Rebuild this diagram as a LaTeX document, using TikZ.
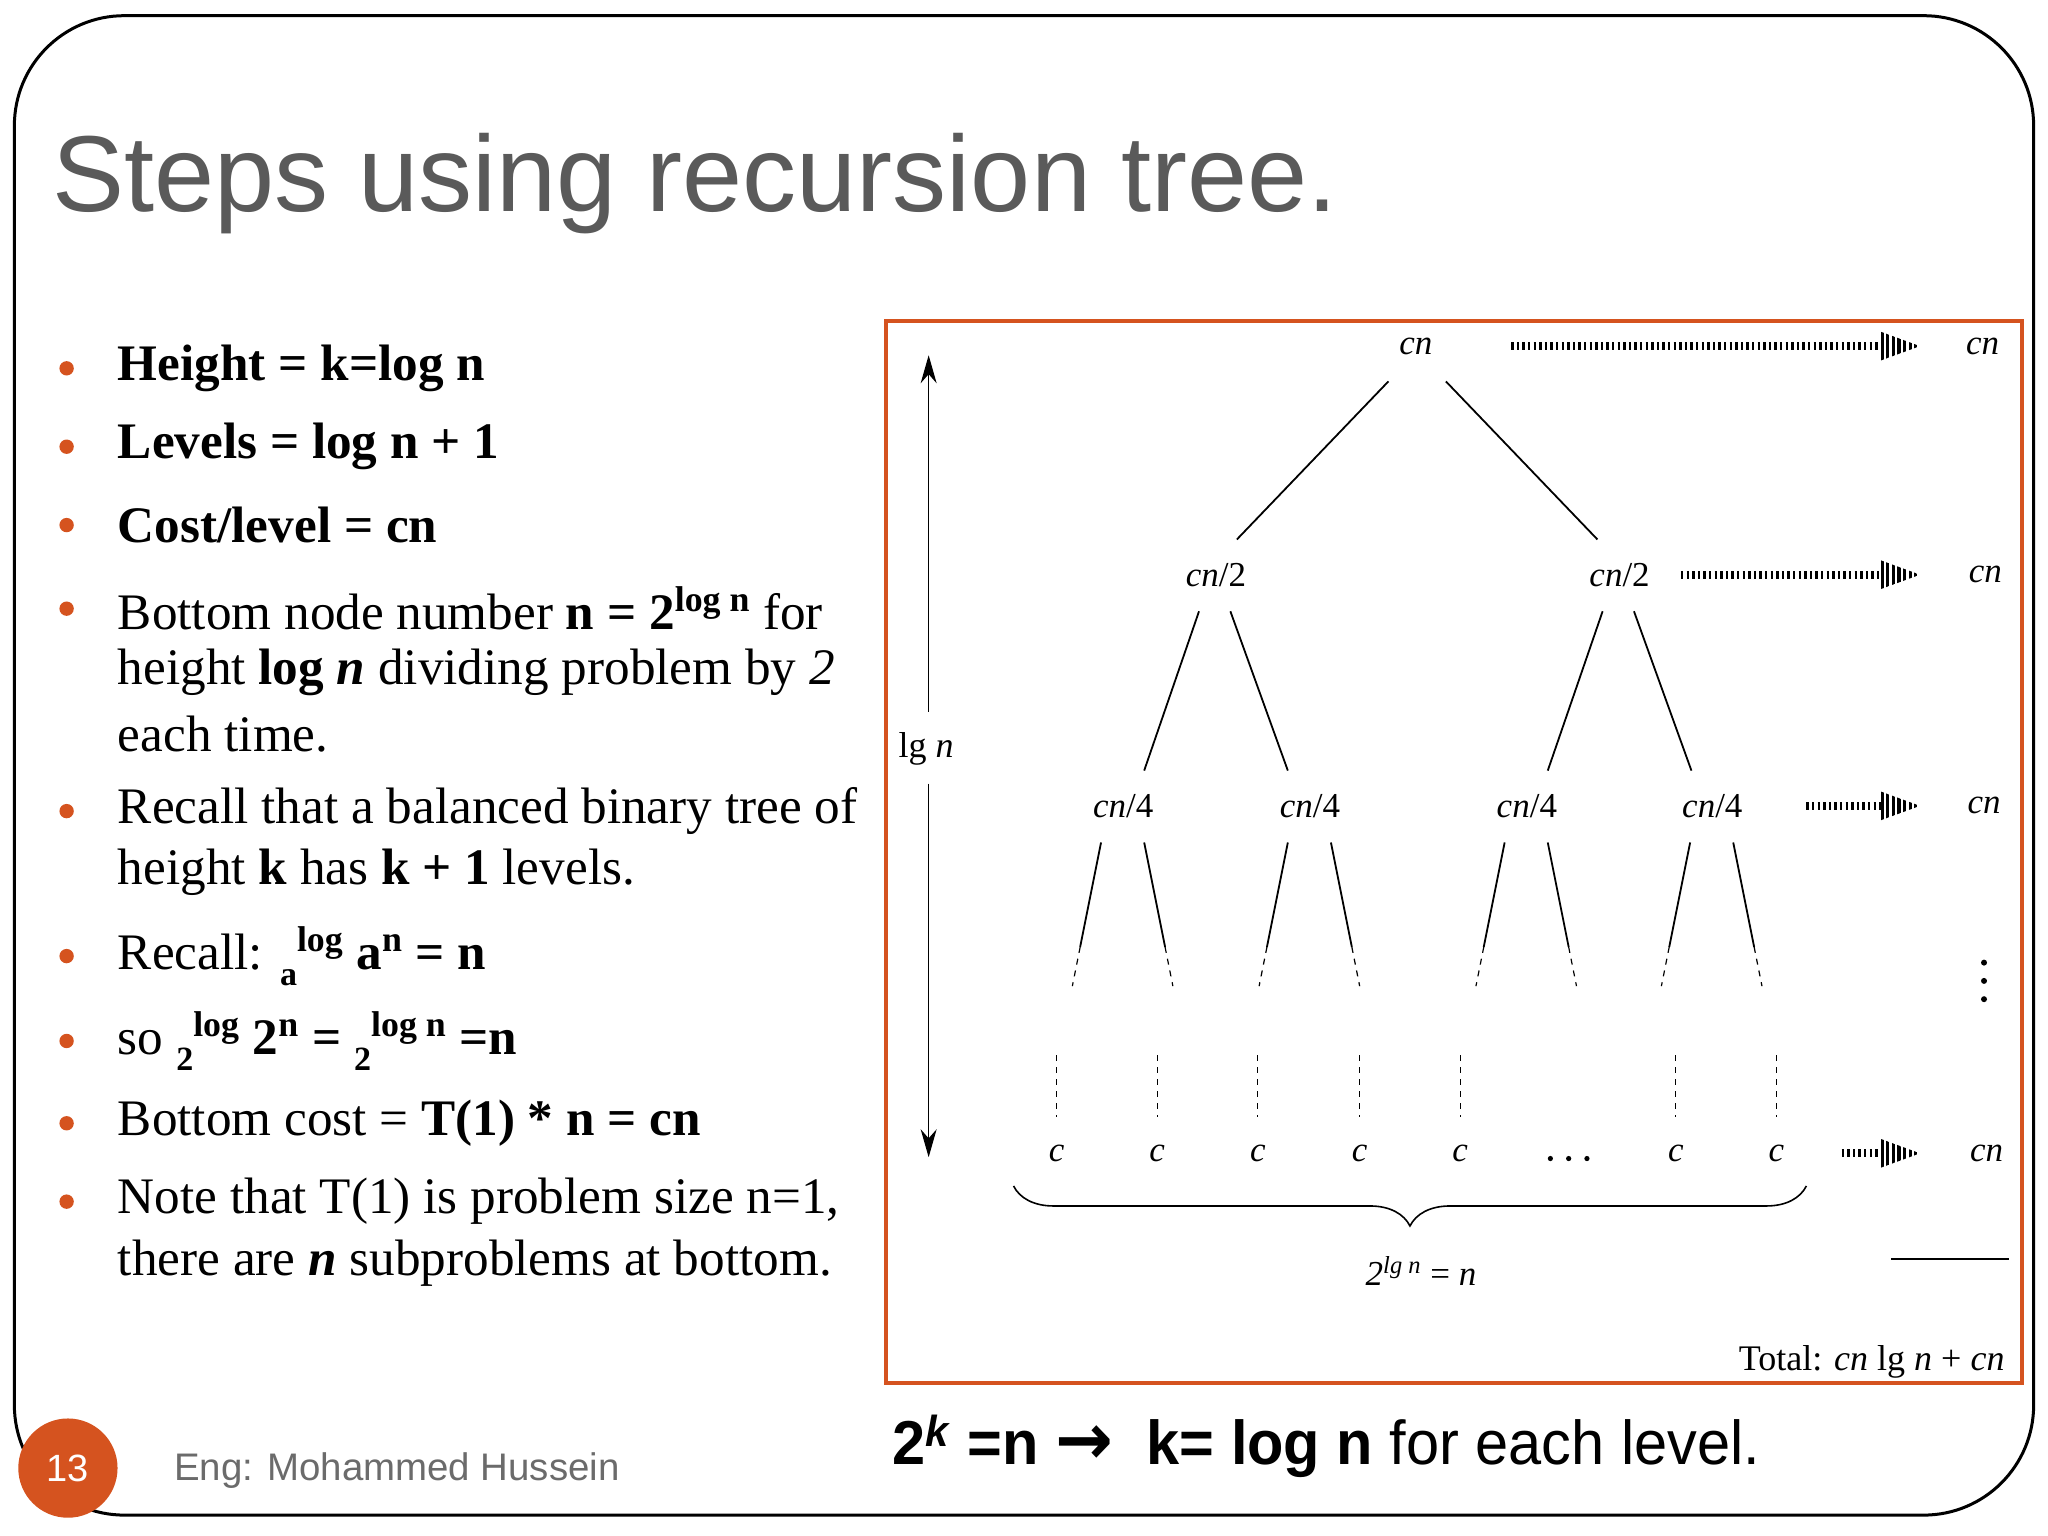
\documentclass[tikz,border=0pt]{standalone}
\usepackage{fontspec}
\setmainfont{Liberation Serif}
\setsansfont{Liberation Sans}
\newfontfamily\dv{DejaVu Sans}
\usetikzlibrary{arrows.meta,decorations.pathreplacing}
\definecolor{org}{HTML}{D5531F}
\definecolor{ttl}{HTML}{5A5A5A}
\newcommand{\lowsub}[1]{\raisebox{-0.3em}{\fontsize{17}{17}\selectfont #1}}
\begin{document}
\begin{tikzpicture}[x=0.653pt,y=-0.653pt,
  bul/.style={anchor=west,inner sep=0,font=\fontsize{25.6}{28}\selectfont},
  tt/.style={inner sep=3pt,font=\fontsize{17.5}{20}\selectfont\itshape},
  edge/.style={line width=0.9pt},
  dsh/.style={line width=0.6pt,dash pattern=on 3pt off 3pt},
  dotln/.style={line width=4pt,dash pattern=on 1.2pt off 1.6pt}]
\useasboundingbox (0,0) rectangle (1568,1176);
\fill[white] (0,0) rectangle (1568,1176);
\draw[line width=1.5pt,rounded corners=55] (11,1160) -- (11,12) -- (1557,12) -- (1557,1160) -- cycle;
\node[anchor=base west,inner sep=0,text=ttl,font=\sffamily\fontsize{54}{60}\selectfont] (title) at (40,162) {Steps using recursion tree.};
% bullets
\foreach \yy in {282,342,402,466,621,732,797,860,920}
  \fill[org] (51,\yy) circle (5.5);
\node[bul] (b1) at (90,282) {\textbf{Height = k=log n}};
\node[bul] (b2) at (90,342) {\textbf{Levels = log n + 1}};
\node[bul] (b3) at (90,402) {\textbf{Cost/level = cn}};
\node[bul] (b4a) at (90,466) {Bottom node number \textbf{n = 2\textsuperscript{log n}} for};
\node[bul] (b4b) at (90,515) {height \textbf{log \textit{n}} dividing problem by \textit{2}};
\node[bul] (b4c) at (90,562) {each time.};
\node[bul] (b5a) at (90,621) {Recall that a balanced binary tree of};
\node[bul] (b5b) at (90,668) {height \textbf{k} has \textbf{k + 1} levels.};
\node[bul] (b6) at (90,732) {Recall: \textbf{\lowsub{a}\textsuperscript{log} a\textsuperscript{n} = n}};
\node[bul] (b7) at (90,797) {so \textbf{\lowsub{2}\textsuperscript{log} 2\textsuperscript{n} = \lowsub{2}\textsuperscript{log n} =n}};
\node[bul] (b8) at (90,860) {Bottom cost = \textbf{T(1) * n = cn}};
\node[bul] (b9a) at (90,920) {Note that T(1) is problem size n=1,};
\node[bul] (b9b) at (90,967) {there are \textbf{\textit{n}} subproblems at bottom.};
% footer
\fill[org] (52,1124) circle (38);
\node[text=white,font=\sffamily\fontsize{19}{20}\selectfont] (pg) at (52,1124) {13};
\node[anchor=west,inner sep=0,text=ttl!90,font=\sffamily\fontsize{19.2}{22}\selectfont] (auth) at (133,1126) {Eng: Mohammed Hussein};
\node[anchor=west,inner sep=0,font=\sffamily\bfseries\fontsize{31}{34}\selectfont] (bot) at (683,1107) {\scalebox{0.96}[1]{2\textsuperscript{\textit{k}} =n {\dv\bfseries\fontsize{36}{36}\selectfont →}\ \ k= log n \mdseries for each level.}};
% diagram frame
\draw[org,line width=2pt] (678,246) rectangle (1548,1059);
% tree nodes
\node[tt] (r) at (1084,265) {cn};
\node[tt] (a1) at (931,440) {cn\upshape/2};
\node[tt] (a2) at (1240,440) {cn\upshape/2};
\node[tt] (q1) at (860,617) {cn\upshape/4};
\node[tt] (q2) at (1003,617) {cn\upshape/4};
\node[tt] (q3) at (1169,617) {cn\upshape/4};
\node[tt] (q4) at (1311,617) {cn\upshape/4};
\node[tt] (s0) at (1518,265) {cn};
\node[tt] (s1) at (1520,440) {cn};
\node[tt] (s2) at (1519,617) {cn};
\node[tt] (s3) at (1521,883) {cn};
\draw[edge] (1063,292) -- (947,413);
\draw[edge] (1107,292) -- (1223,413);
\foreach \x in {931,1240}{
  \draw[edge] (\x-13,468) -- (\x-55,590);
  \draw[edge] (\x+11,468) -- (\x+55,590);}
\foreach \x in {860,1003,1169,1311}{
  \coordinate (L\x) at (\x-39,755);
  \coordinate (R\x) at (\x+38,755);
  \draw[edge] (\x-17,645) -- (\x-33,725);
  \draw[dsh] (\x-33,725) -- (L\x);
  \draw[edge] (\x+16,645) -- (\x+32,725);
  \draw[dsh] (\x+32,725) -- (R\x);}
\foreach \yy [count=\j] in {737,751,765} \fill (1519,\yy) circle (2.3);
\foreach \x [count=\i] in {809,886,963,1041,1118,1283,1360}{
  \node[tt] (c\i) at (\x,883) {c};
  \draw[dsh] (\x,808) -- (\x,855);}
\foreach \x in {1187,1201,1215} \fill (\x,887) circle (2);
% dotted arrows
\foreach \a/\b/\yy in {1157/1470/265,1287/1470/440,1383/1470/617,1410/1470/883}{
  \draw[dotln] (\a,\yy) -- (\b-28,\yy);
  \begin{scope}
    \clip (\b-30,\yy-11) -- (\b,\yy) -- (\b-30,\yy+11) -- cycle;
    \foreach \k in {0,...,6} \draw[line width=1.6pt] (\b-29+\k*4.3,\yy-12) -- (\b-29+\k*4.3,\yy+12);
  \end{scope}}
% brace
\draw[line width=0.8pt,decorate,decoration={brace,amplitude=20pt,mirror}] (776,908) -- (1383,908);
\node[tt] (cnt) at (1088,973) {2\textsuperscript{lg \textit{n}} \upshape= \itshape n};
\draw[line width=0.8pt] (1448,964) -- (1538,964);
\node[anchor=base east,inner sep=0,font=\fontsize{18}{20}\selectfont] (tot) at (1535,1049) {Total: \textit{cn} lg \textit{n} + \textit{cn}};
% lg n arrow
\node[font=\fontsize{18}{20}\selectfont] (lg) at (709,573) {lg \textit{n}};
\draw[-{Stealth[length=14pt,width=8pt]},line width=0.6pt] (711,545) -- (711,272);
\draw[-{Stealth[length=14pt,width=8pt]},line width=0.6pt] (711,600) -- (711,886);
\end{tikzpicture}
\end{document}
